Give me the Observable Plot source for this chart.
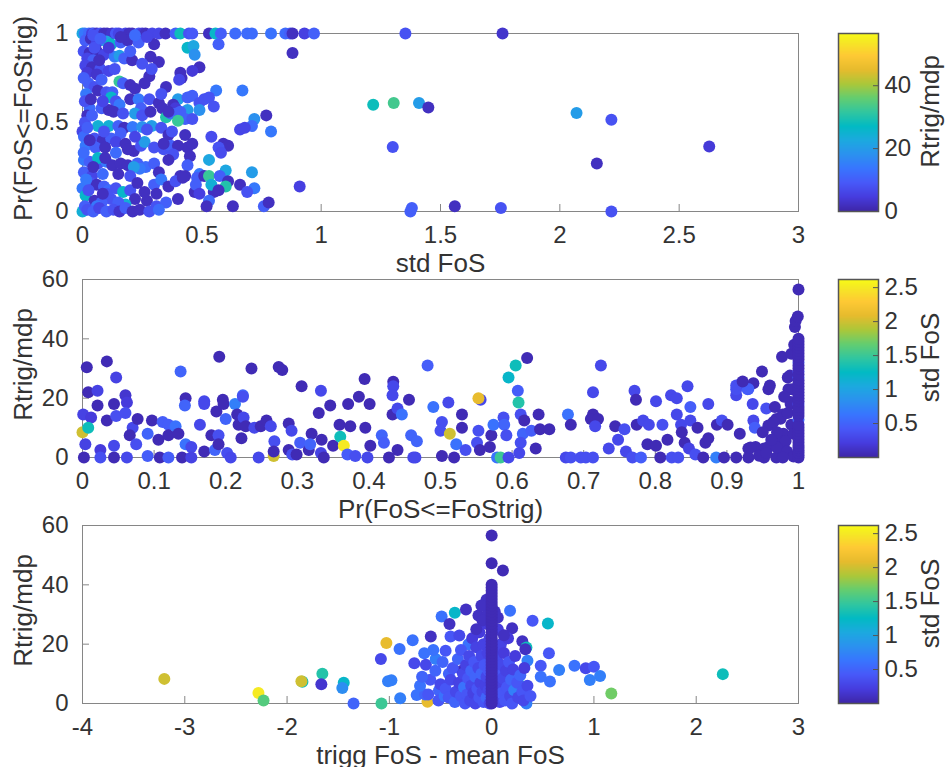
<!DOCTYPE html>
<html><head><meta charset="utf-8">
<script src="https://cdn.jsdelivr.net/npm/d3@7"></script>
<script src="https://cdn.jsdelivr.net/npm/@observablehq/plot@0.6"></script>
<style>
body{margin:0;background:#fff;}
#fig{position:relative;width:947px;height:767px;overflow:hidden;background:#fff;}
#fig svg{position:absolute;}
</style></head><body><div id="fig"></div>
<script>
// ---------- data: [x, y, colour value] ----------
// Panel 1: std FoS vs Pr(FoS<=FoStrig), colour Rtrig/mdp
const stdVsPr = [
[0,1,22],[0.01,1,14],[0.027,1,12],[0.04,1,5],[0.048,1,10],[0.06,1,3],[0.075,1,8],[0.09,1,2],[0.103,1,2],[0.124,1,3],[0.14,1,9],[0.152,1,6],[0.18,1,6],[0.195,1,2],[0.208,1,2],[0.236,1,8],[0.25,1,4],[0.264,1,2],[0.292,1,6],[0.32,1,6],[0.348,1,2],[0.39,1,10],[0.41,1,28],[0.446,1,8],[0.46,1,9],[0.53,1,2],[0.557,1,26],[0.58,1,10],[0.64,1,12],[0.69,1,12],[0.71,1,12],[0.79,1,13],[0.85,1,12],[0.87,1,10],[0.88,1,2],[0.93,1,5],[0.97,1,10],[1.353,1,8],[1.76,1,3],
[0.012,0.96,10],[0.035,0.97,2],[0.06,0.95,6],[0.1,0.955,22],[0.12,0.94,26],[0.16,0.95,10],[0.19,0.96,2],[0.235,0.95,10],[0.44,0.92,26],[0.465,0.93,22],[0.57,0.94,10],[0.47,0.88,18],[0.49,0.81,2],[0.46,0.79,4],[0.88,0.89,2],
[0.005,0.9,8],[0.03,0.89,2],[0.06,0.9,2],[0.09,0.88,6],[0.135,0.87,14],[0.155,0.875,20],[0.175,0.86,10],[0.208,0.85,2],[0.285,0.87,2],[0.32,0.84,2],[0.25,0.83,8],[0.02,0.86,6],[0.045,0.85,10],
[0.012,0.82,6],[0.04,0.81,2],[0.075,0.8,8],[0.11,0.79,6],[0.135,0.8,8],[0.155,0.73,32],[0.17,0.72,10],[0.2,0.71,2],[0.22,0.69,2],[0.28,0.76,2],[0.29,0.8,8],[0.35,0.7,2],[0.41,0.78,2],[0.415,0.75,2],[0.405,0.74,6],[0.02,0.78,4],[0.06,0.77,3],
[0.025,0.72,10],[0.05,0.7,8],[0.065,0.68,2],[0.015,0.66,14],[0.1,0.67,8],[0.125,0.67,10],[0.12,0.64,26],[0.14,0.62,8],[0.2,0.63,2],[0.235,0.63,14],[0.245,0.58,10],[0.28,0.63,8],[0.32,0.61,2],[0.335,0.58,2],[0.37,0.56,2],[0.4,0.63,20],[0.44,0.64,10],[0.46,0.65,10],[0.49,0.61,8],[0.44,0.57,20],[0.56,0.68,14],[0.67,0.68,14],[0.51,0.63,8],[0.53,0.64,8],[0.55,0.59,8],[0.49,0.57,18],[0.38,0.6,2],[0.39,0.58,4],
[0.03,0.58,12],[0.08,0.58,10],[0.02,0.54,2],[0.11,0.57,2],[0.155,0.6,14],[0.22,0.55,20],[0.25,0.54,8],[0.285,0.56,2],[0.35,0.53,30],[0.37,0.55,12],[0.395,0.55,10],[0.41,0.56,10],[0.43,0.52,10],[0.46,0.52,8],[0.40,0.51,32],[0.36,0.56,2],[0.77,0.54,2],[0.72,0.52,18],[0.71,0.48,12],[0.79,0.45,14],[0.66,0.46,6],[0.68,0.47,6],
[0.01,0.5,8],[0.065,0.48,24],[0.11,0.48,24],[0.15,0.48,10],[0.175,0.47,2],[0.21,0.475,14],[0.25,0.475,18],[0.29,0.48,20],[0.33,0.47,8],[0.36,0.43,2],[0.43,0.43,2],[0.375,0.45,8],[0.16,0.44,10],[0.0,0.45,6],
[0.006,0.42,12],[0.05,0.41,8],[0.085,0.4,2],[0.12,0.41,10],[0.14,0.39,6],[0.013,0.37,14],[0.055,0.36,10],[0.095,0.36,2],[0.18,0.38,2],[0.215,0.34,2],[0.245,0.37,8],[0.26,0.39,20],[0.3,0.36,8],[0.34,0.35,8],[0.37,0.37,10],[0.44,0.36,2],[0.59,0.38,2],[0.61,0.37,2],[0.57,0.36,8],[0.54,0.42,7],[0.46,0.38,2],[0.40,0.37,2],[0.34,0.38,2],[0.58,0.33,7],[0.45,0.31,2],[0.38,0.32,8],[0.36,0.29,2],
[0.006,0.29,14],[0.03,0.28,10],[0.065,0.27,8],[0.1,0.28,14],[0.125,0.26,2],[0.16,0.27,2],[0.19,0.26,2],[0.23,0.27,10],[0.265,0.25,12],[0.3,0.27,10],[0.24,0.24,14],[0.215,0.25,20],[0.065,0.3,26],[0.32,0.22,2],[0.41,0.2,2],[0.44,0.26,10],[0.43,0.2,2],[0.53,0.29,22],[0.006,0.22,10],[0.04,0.2,6],[0.085,0.21,12],[0.15,0.21,2],[0.2,0.2,8],[0.6,0.23,22],[0.71,0.22,20],[0.49,0.21,14],[0.48,0.19,10],
[0.0,0.13,14],[0.013,0.09,26],[0.035,0.16,8],[0.06,0.15,2],[0.09,0.14,10],[0.11,0.12,12],[0.14,0.13,8],[0.17,0.11,26],[0.2,0.12,8],[0.23,0.16,2],[0.26,0.11,2],[0.3,0.15,10],[0.33,0.18,14],[0.36,0.14,2],[0.39,0.17,8],[0.42,0.19,2],[0.47,0.11,2],[0.475,0.15,10],[0.51,0.2,2],[0.53,0.2,32],[0.575,0.2,10],[0.61,0.17,2],[0.55,0.11,2],[0.54,0.15,24],[0.60,0.14,30],[0.66,0.15,2],[0.72,0.13,14],[0.57,0.12,2],[0.69,0.11,8],[0.49,0.1,5],[0.91,0.14,5],[0.12,0.07,8],[0.05,0.06,2],[0.08,0.05,10],[0.22,0.07,2],[0.18,0.04,24],[0.27,0.06,2],[0.31,0.03,8],[0.35,0.05,10],[0.4,0.07,2],
[0.005,0.75,10],[0.01,0.62,8],[0.02,0.47,10],[0.005,0.33,12],[0.015,0.18,14],[0.025,0.12,8],[0.03,0.4,2],[0.04,0.54,10],[0.045,0.25,2],[0.05,0.92,8],[0.07,0.85,2],[0.08,0.74,10],[0.085,0.62,6],[0.09,0.45,8],[0.095,0.3,2],[0.1,0.1,8],[0.11,0.92,4],[0.13,0.56,2],[0.14,0.33,12],[0.15,0.05,10],[0.17,0.55,8],[0.19,0.35,2],[0.2,0.9,10],[0.22,0.42,6],[0.26,0.72,2],[0.27,0.46,8],[0.3,0.94,2],[0.31,0.1,2],[0.33,0.66,8],[0.045,0.99,8],[0.075,0.97,10],[0.16,0.98,2],[0.22,0.99,12],[0.27,0.98,6],[0.06,0.03,14],[0.085,0.1,2],[0.035,0.63,2],
[0.0,0.0,24],[0.01,0.03,10],[0.02,0.01,8],[0.045,0.0,10],[0.07,0.02,6],[0.1,0.0,10],[0.13,0.01,8],[0.155,0.0,3],[0.18,0.02,10],[0.21,0.0,2],[0.24,0.01,2],[0.28,0.0,8],[0.32,0.01,12],[0.53,0.06,12],[0.52,0.03,2],[0.63,0.03,2],[0.76,0.03,10],[0.78,0.05,2],[1.374,0.0,10],[1.38,0.02,10],[1.56,0.03,2],[1.753,0.02,8],[2.216,0.0,8],
[1.218,0.6,28],[1.304,0.61,33],[1.41,0.61,20],[1.449,0.584,2],[1.30,0.363,8],[2.07,0.554,20],[2.216,0.515,8],[2.626,0.365,4],[2.155,0.27,2]
];

// Panel 2: Pr(FoS<=FoStrig) vs Rtrig/mdp, colour std FoS
const prVsRtrig = [
[0.006,30.4,0.05],[0.034,32.4,0.05],[0.047,27,0.25],[0.008,22,0.05],[0.021,22.5,0.25],[0.06,21,0.15],[0.062,18.5,0.2],[0.044,18,0.05],[0.021,17.5,0.05],[0.001,14.5,0.25],[0.012,13.5,0.2],[0.034,12.5,0.05],[0.047,14,0.35],[0.06,15,0.35],[0.0,8.5,2.0],[0.008,10,1.3],[0.004,4.5,0.25],[0.025,2.5,0.2],[0.025,0,0.35],[0.002,0,0.05],[0.044,0,0.05],[0.044,4,0.3],[0.062,0,0.3],[0.07,10,0.3],[0.077,13,0.05],[0.066,7.5,0.05],[0.075,4.5,0.35],[0.091,8,0.5],[0.091,0.5,0.45],[0.097,12.5,0.05],[0.106,6,0.05],[0.108,0,0.05],[0.112,12,0.45],[0.12,11,0.45],[0.12,0,0.45],[0.12,7.5,0.05],[0.13,10.5,0.6],[0.137,29,0.5],[0.144,20,0.05],[0.143,17.5,0.5],[0.134,8,0.05],[0.144,4.5,0.6],[0.152,3.5,0.3],[0.139,0,0.05],[0.152,0,0.25],[0.164,11,0.3],[0.17,2,0.05],[0.17,19,0.3],[0.17,18,0.3],[0.18,7.5,0.05],[0.187,15.5,0.05],[0.191,34,0.05],[0.196,19.5,0.05],[0.197,18,0.05],[0.185,2.5,0.5],[0.19,7.5,0.35],[0.19,4.5,0.05],[0.2,13,0.5],[0.202,1.5,0.35],[0.207,0,0.3],[0.213,18,0.7],[0.224,21,0.5],[0.224,20.5,0.35],[0.216,14.5,0.05],[0.218,11,0.05],[0.225,13.5,0.3],[0.222,6.5,0.05],[0.228,10.5,0.05],[0.236,30,0.05],[0.24,10,0.3],[0.246,0,0.3],[0.249,10.5,0.05],[0.257,12.5,0.05],[0.263,10.5,0.3],[0.267,0.5,2.0],[0.268,5.5,0.35],[0.267,2,0.05],[0.274,30.5,0.05],[0.279,29.5,0.05],[0.288,11.5,0.05],[0.292,9,0.3],[0.288,2.5,0.05],[0.293,1,0.35],[0.299,1,0.05],[0.306,24,0.05],[0.304,5,0.45],[0.316,2.5,0.05],[0.32,8,0.05],[0.318,4.5,0.5],[0.33,15,0.05],[0.333,22.5,0.3],[0.334,6,0.05],[0.333,1.5,0.25],[0.337,0,0.05],[0.346,17.5,0.05],[0.35,4,0.05],[0.359,11,0.05],[0.36,7,1.3],[0.365,4,2.5],[0.37,1,0.45],[0.371,18,0.05],[0.374,10.5,0.05],[0.386,20.5,0.05],[0.381,0.5,0.35],[0.394,26.5,0.05],[0.395,10,0.05],[0.401,18,0.05],[0.402,4,0.05],[0.398,0,0.3],[0.418,7.5,0.5],[0.421,5,0.45],[0.428,0,0.05],[0.434,25.5,0.05],[0.434,24,0.3],[0.433,21,0.3],[0.433,14.5,0.05],[0.44,16.5,0.3],[0.446,14.5,0.6],[0.44,2.5,0.05],[0.456,19.5,0.05],[0.459,7.5,0.5],[0.465,0,0.3],[0.467,5.5,0.5],
[0.482,31,0.45],[0.49,17,0.6],[0.511,18.5,0.3],[0.502,12,0.35],[0.5,9,0.35],[0.513,8,2.0],[0.53,14.5,0.05],[0.53,10,0.05],[0.522,4.5,0.6],[0.535,2.5,0.35],[0.502,0.5,0.05],[0.519,0,0.05],[0.462,0,0.3],[0.556,19.5,0.3],[0.553,20,2.1],[0.553,9,0.35],[0.551,5,0.35],[0.555,2.5,0.05],[0.571,7.5,0.05],[0.569,3.5,0.05],[0.574,11,0.6],[0.588,13.5,0.35],[0.589,11,0.5],[0.592,7.5,0.35],[0.579,0,0.6],[0.584,0,1.5],[0.595,0,0.3],[0.605,31,1.3],[0.595,27,1.2],[0.608,22.5,0.45],[0.609,18.5,1.4],[0.612,14.5,0.35],[0.617,12.5,0.05],[0.615,8,0.5],[0.612,5,0.35],[0.61,1.5,0.3],[0.621,33.5,0.05],[0.633,3,0.05],[0.627,9,0.45],[0.637,14.5,0.05],[0.639,9.5,0.05],[0.652,9.5,0.05],[0.678,14.5,0.6],[0.682,11,0.05],[0.675,0,0.3],[0.682,0,0.35],[0.696,0,0.35],[0.703,0,0.35],[0.713,0,0.35],[0.724,31,0.3],[0.713,22,0.3],[0.713,14.5,0.05],[0.71,13,0.05],[0.72,13,0.05],[0.716,10.5,0.3],[0.735,3,0.3],[0.744,10.5,0.05],[0.748,6,0.3],[0.757,9.5,0.35],[0.759,2,0.3],[0.768,0,0.35],[0.78,0,0.45],[0.771,22.5,0.3],[0.773,19.5,0.05],[0.774,11,0.05],[0.783,12.5,0.3],[0.791,11,0.3],[0.789,4.5,0.05],[0.801,4,0.05],[0.807,0,0.05],[0.801,19,0.3],[0.81,11,0.35],[0.817,6,0.05],[0.822,21,0.3],[0.83,20,0.3],[0.823,0,0.35],[0.832,0,0.35],[0.83,14.5,0.3],[0.836,11,0.3],[0.837,8.5,0.05],[0.841,5,0.05],[0.845,24,0.3],[0.849,17,0.45],[0.849,12.5,0.3],[0.859,10,0.05],[0.847,3,0.25],[0.856,1,0.35],[0.867,0,0.05],[0.87,5,0.05],[0.874,6.5,0.05],[0.874,18,0.3],[0.886,11,0.05],[0.893,12.5,0.35],[0.901,11,0.05],[0.885,0,0.7],[0.896,0,0.05],[0.913,0,0.05],[0.918,8,0.05],[0.913,21,0.3],[0.913,23,0.35],[0.92,25,0.3],[0.929,23,0.45],[0.937,25,0.05],[0.949,29,0.05],[0.958,23,0.05],[0.936,18,0.3],[0.955,16.5,0.35],[0.967,17,0.05],[0.937,12.5,0.3],[0.939,10,0.45],[0.93,3,0.05],[0.94,3.5,0.05],[0.952,3,0.05],[0.958,3.5,0.05],[0.93,0,0.05],[0.952,0,0.05],[0.969,0,0.05],[0.969,13,0.05],[0.977,34,0.05],[0.985,27,0.05],[0.986,23,0.05],[0.989,18,0.05],[0.978,14.5,0.05],[0.979,8,0.05],[0.974,5,0.05],[0.981,2,0.05],
[0.913,24.3,0.35],[0.93,23.1,0.45],[0.922,25.6,0.05],[0.96,24.3,0.05],[0.988,27.6,0.05],[0.991,23,0.05],[0.989,18.7,0.05],[0.975,13.1,0.05],[0.958,10.8,0.05],[0.97,8.5,0.05],[0.982,5.6,0.05],[0.97,3.4,0.05],[0.933,3.4,0.05],[0.945,0.6,0.05],[0.985,15,0.05],[0.99,11,0.05],[0.993,8,0.05],[0.984,2,0.05],[0.993,0.3,0.05],[0.98,20.5,0.05],[0.962,6,0.05],[0.955,1.5,0.05],[0.978,0,0.05],[0.965,12,0.05],[0.95,8.5,0.05],[0.99,35,0.05],[0.994,38,0.05],
[1,32,0.45],[1,29,0.35],[1,27,0.45],[1,18,0.35],[1,12.7,0.5],
[1,0,0.05],[1,0.8,0.05],[1,1.6,0.05],[1,2.4,0.05],[1,3.2,0.05],[1,4,0.05],[1,5,0.05],[1,6,0.05],[1,7,0.05],[1,8,0.05],[1,9,0.05],[1,10,0.05],[1,11,0.05],[1,14,0.05],[1,15,0.05],[1,16,0.05],[1,17,0.05],[1,19,0.05],[1,20,0.05],[1,21,0.05],[1,22,0.05],[1,23,0.05],[1,24,0.05],[1,25,0.05],[1,26,0.05],[1,28,0.05],[1,30,0.05],[1,31,0.05],[1,33,0.05],[1,34,0.05],[1,35,0.05],[1,36,0.05],[1,37,0.05],[1,38,0.05],[1,39,0.05],[1,40,0.05],
[0.995,44,0.05],[0.996,46,0.05],[0.999,47.5,0.05],[1,56.6,0.05]
];

// Panel 3: trigg FoS - mean FoS vs Rtrig/mdp, colour std FoS
const diffVsRtrig = [
[-3.2,8.3,2.0],[-2.28,3.5,2.5],[-2.23,1.0,1.6],[-1.85,7.3,1.3],[-1.86,7.5,2.0],[-1.655,10,1.4],[-1.665,6.5,0.15],[-1.446,7,1.2],[-1.46,5.2,0.8],[-1.35,0,0.5],[-1.077,0,1.5],[-1.083,15,0.3],[-1.029,20.4,2.1],[-0.90,18.4,0.6],[-1.013,7.5,0.7],[-0.98,7.8,0.7],[-0.894,1.8,0.7],[-0.772,21.3,0.6],[-0.756,13.6,0.3],[-0.659,16.9,0.6],[-0.733,2.9,0.6],[-0.627,0.6,2.1],[-0.595,22.6,0.1],[-0.643,13.1,0.3],[-0.547,15,0.7],[-0.489,29.3,0.6],[-0.412,26.8,0.1],[-0.36,30.6,1.2],[-0.251,31.7,0.1],[-0.45,17.8,0.4],[-0.402,22.6,0.4],[-0.316,22.9,0.3],[-0.29,11,0.1],[-0.418,10,0.5],[-0.515,4.4,0.5],[-0.226,20,0.6],[-0.129,29.7,0.1],[-0.065,33,0.1],[-0.65,3,0.5],
[0.18,31.3,0.6],[0.40,27.9,0.4],[0.55,27,1.2],[0.2,25.4,0.1],[0.30,21,0.1],[0.34,18.9,1.3],[0.33,18.3,0.1],[0.56,16.9,0.4],[0.35,14.4,0.7],[0.48,12.7,0.4],[0.66,11.3,0.7],[0.81,12.7,0.6],[0.92,11.9,0.3],[1.0,12.4,0.4],[1.06,9.3,0.7],[0.96,7.9,0.7],[0.57,7.4,0.6],[0.48,9.0,0.6],[1.17,3.4,1.7],[2.26,9.9,1.3],[0.34,0,0.7],[0.26,6.8,1.2],
[-0.6,8,0.4],[-0.55,11,0.5],[-0.52,1,0.4],[-0.5,6.5,0.3],[-0.48,14,0.5],[-0.46,2.5,0.6],[-0.7,6,0.6],[-0.68,9,0.5],[-0.62,3,0.4],[-0.57,18,0.6],
[-0.45,5,0.4],[-0.42,2,0.4],[-0.4,8,0.3],[-0.38,12,0.4],[-0.36,0.5,0.5],[-0.35,4,0.3],[-0.33,15,0.5],[-0.32,7,0.25],[-0.3,2.5,0.4],[-0.3,18,0.4],[-0.28,10,0.3],[-0.27,5.5,0.6],[-0.26,0,0.4],[-0.25,13,0.25],[-0.24,3,0.4],[-0.23,8.5,0.4],[-0.22,16,0.3],[-0.21,1,0.3],[-0.2,11,0.5],[-0.2,6,0.3],[-0.19,22,0.2],[-0.18,3.5,0.25],[-0.17,14,0.4],[-0.16,9,0.5],[-0.16,0,0.3],[-0.15,19,0.25],[-0.14,5,0.4],[-0.13,12,0.3],[-0.12,2,0.4],[-0.12,24,0.2],[-0.11,7,0.25],[-0.1,16,0.3],[-0.1,10,0.5],[-0.09,4,0.3],[-0.08,20,0.25],[-0.08,0.5,0.4],[-0.07,13,0.4],[-0.06,6,0.25],[-0.06,27,0.2],[-0.05,9,0.3],[-0.05,2,0.5],[-0.04,17,0.25],[-0.03,11,0.4],[-0.03,4.5,0.3],[-0.02,22,0.25],[-0.02,0,0.3],[-0.01,14,0.4],[-0.01,7.5,0.25],
[0.01,5,0.3],[0.02,12,0.25],[0.02,1,0.4],[0.03,18,0.25],[0.04,8,0.4],[0.05,3,0.3],[0.05,15,0.3],[0.06,25,0.2],[0.07,10,0.4],[0.08,0.5,0.3],[0.08,6,0.25],[0.09,20,0.25],[0.1,13,0.3],[0.1,3.5,0.4],[0.11,8.5,0.3],[0.12,17,0.2],[0.13,1,0.4],[0.14,11,0.25],[0.15,5.5,0.4],[0.16,22,0.2],[0.17,14,0.4],[0.18,2.5,0.3],[0.19,8,0.5],[0.2,0,0.4],[0.21,11.5,0.25],[0.22,4.5,0.7],[0.23,16,0.2],[0.25,7,0.4],[0.26,2,0.3],[0.28,9.5,0.5],[0.3,4,0.4],[0.31,1,0.3],[0.32,12,0.2],[0.35,6,0.3],[0.38,2.5,0.4],
[-0.04,30,0.1],[0.03,31,0.1],[-0.09,28,0.1],[0.06,29,0.1],[-0.15,25,0.1],[0.12,23,0.1],[-0.05,35,0.1],[-0.1,33,0.1],
[0,0,0.05],[0,1,0.05],[0,2,0.05],[0,3,0.05],[0,4,0.05],[0,5,0.05],[0,6,0.05],[0,7,0.05],[0,8,0.05],[0,9,0.05],[0,10,0.05],[0,11,0.05],[0,12,0.05],[0,13,0.05],[0,14,0.05],[0,15,0.05],[0,16,0.05],[0,17,0.05],[0,18,0.05],[0,19,0.05],[0,20,0.05],[0,21,0.05],[0,22,0.05],[0,23,0.05],[0,24,0.05],[0,25,0.05],[0,26,0.05],[0,27,0.05],[0,28,0.05],[0,29,0.05],[0,30,0.05],[0,31,0.05],[0,32,0.05],[0,33,0.05],[0,34,0.05],[0,35,0.05],[0,36,0.05],[0,37,0.05],[0,38,0.05],[0,39,0.05],[0,40,0.05],
[0.11,44.8,0.05],[0,47.3,0.05],[0,56.6,0.05]
];

// ticks
const ticksStd = [0,0.5,1,1.5,2,2.5,3];
const ticksPr01 = [0,0.5,1];
const ticksPr = [0,0.1,0.2,0.3,0.4,0.5,0.6,0.7,0.8,0.9,1];
const ticksR = [0,20,40,60];
const ticksDiff = [-4,-3,-2,-1,0,1,2,3];
const cbTicksR = [0,20,40];
const cbTicksStd = [0.5,1,1.5,2,2.5];
const domR = [0,56.6];
const domStd = [0,2.62];

// parula colormap
const parulaColors = ["#3e26a8","#463cde","#4758f8","#3875fe","#2b91ef","#1ca9df","#02bac3","#31c69f","#64cd6f","#abc739","#e6bb2d","#fec934","#f5e924","#f9fb14"];
const parulaPos = [0,5,10,15,20,25,30,35,40,45,50,55,60,63].map(i => i/63);
const parulaScale = d3.scaleLinear().domain(parulaPos).range(parulaColors).interpolate(d3.interpolateRgb).clamp(true);
const parula = t => parulaScale(t);

const FONT = "'Liberation Sans', Arial, Helvetica, sans-serif";
const TXT = "#333";
const AX = "#868686";
const MT = 30, MB = 64, H = 178, W = 716, ML = 82;
const fig = document.getElementById("fig");

function panel({data, xDomain, yDomain, xTicks, yTicks, cDomain, top, xLabel, yLabel}) {
  const svg = Plot.plot({
    width: 947, height: MT + H + MB,
    marginTop: MT, marginBottom: MB, marginLeft: ML, marginRight: 947 - ML - W,
    style: {background: "none", fontFamily: FONT, overflow: "visible", color: TXT},
    x: {domain: xDomain},
    y: {domain: yDomain},
    color: {type: "linear", domain: cDomain, interpolate: parula},
    marks: [
      Plot.frame({stroke: AX}),
      Plot.tickX(xTicks, {x: d => d, insetTop: H - 7, stroke: AX}),
      Plot.tickY(yTicks, {y: d => d, insetRight: W - 7, stroke: AX}),
      Plot.axisX(xTicks, {tickSize: 0, tickPadding: 14, tickFormat: d => String(d), fontSize: 24, fill: TXT, label: null}),
      Plot.axisY(yTicks, {tickSize: 0, tickPadding: 14, tickFormat: d => String(d), fontSize: 24, fill: TXT, label: null}),
      Plot.dot(data, {x: d => d[0], y: d => d[1], fill: d => d[2], r: 6, stroke: null}),
      Plot.text([xLabel], {frameAnchor: "bottom", textAnchor: "middle", lineAnchor: "top", dy: 42, fontSize: 26, fill: TXT}),
      Plot.text([yLabel], {frameAnchor: "left", textAnchor: "middle", rotate: -90, lineAnchor: "top", dx: -69, dy: -4, fontSize: 26, fill: TXT})
    ]
  });
  svg.style.left = "0px";
  svg.style.top = (top - MT) + "px";
  fig.appendChild(svg);
}

function colorbar({domain, ticks, label, top}) {
  const n = H;
  const steps = d3.range(n).map(i => [domain[0] + (domain[1] - domain[0]) * i / n, domain[0] + (domain[1] - domain[0]) * (i + 1) / n]);
  const CBW = 40;
  const svg = Plot.plot({
    width: 121, height: MT + H + MB,
    marginTop: MT, marginBottom: MB, marginLeft: 12, marginRight: 121 - 12 - CBW,
    style: {background: "none", fontFamily: FONT, overflow: "visible", color: TXT},
    x: {domain: [0, 1], axis: null},
    y: {domain},
    color: {type: "linear", domain, interpolate: parula},
    marks: [
      Plot.rect(steps, {x1: 0, x2: 1, y1: d => d[0], y2: d => d[1], fill: d => (d[0] + d[1]) / 2, shapeRendering: "crispEdges"}),
      Plot.tickY(ticks, {y: d => d, insetLeft: CBW - 5, stroke: "#555"}),
      Plot.frame({stroke: "#555", strokeWidth: 1.5}),
      Plot.axisY(ticks, {anchor: "right", tickSize: 0, tickPadding: 6, tickFormat: d => String(d), fontSize: 24, fill: TXT, label: null}),
      Plot.text([label], {frameAnchor: "right", textAnchor: "middle", rotate: -90, lineAnchor: "top", dx: 42, dy: -11, fontSize: 26, fill: TXT})
    ]
  });
  svg.style.left = "826px";
  svg.style.top = (top - MT) + "px";
  fig.appendChild(svg);
}

panel({data: stdVsPr, xDomain: [0, 3], yDomain: [0, 1], xTicks: ticksStd, yTicks: ticksPr01, cDomain: domR, top: 33, xLabel: "std FoS", yLabel: "Pr(FoS<=FoStrig)"});
colorbar({domain: domR, ticks: cbTicksR, label: "Rtrig/mdp", top: 33});
panel({data: prVsRtrig, xDomain: [0, 1], yDomain: [0, 60], xTicks: ticksPr, yTicks: ticksR, cDomain: domStd, top: 279, xLabel: "Pr(FoS<=FoStrig)", yLabel: "Rtrig/mdp"});
colorbar({domain: domStd, ticks: cbTicksStd, label: "std FoS", top: 279});
panel({data: diffVsRtrig, xDomain: [-4, 3], yDomain: [0, 60], xTicks: ticksDiff, yTicks: ticksR, cDomain: domStd, top: 525, xLabel: "trigg FoS - mean FoS", yLabel: "Rtrig/mdp"});
colorbar({domain: domStd, ticks: cbTicksStd, label: "std FoS", top: 525});
</script></body></html>
